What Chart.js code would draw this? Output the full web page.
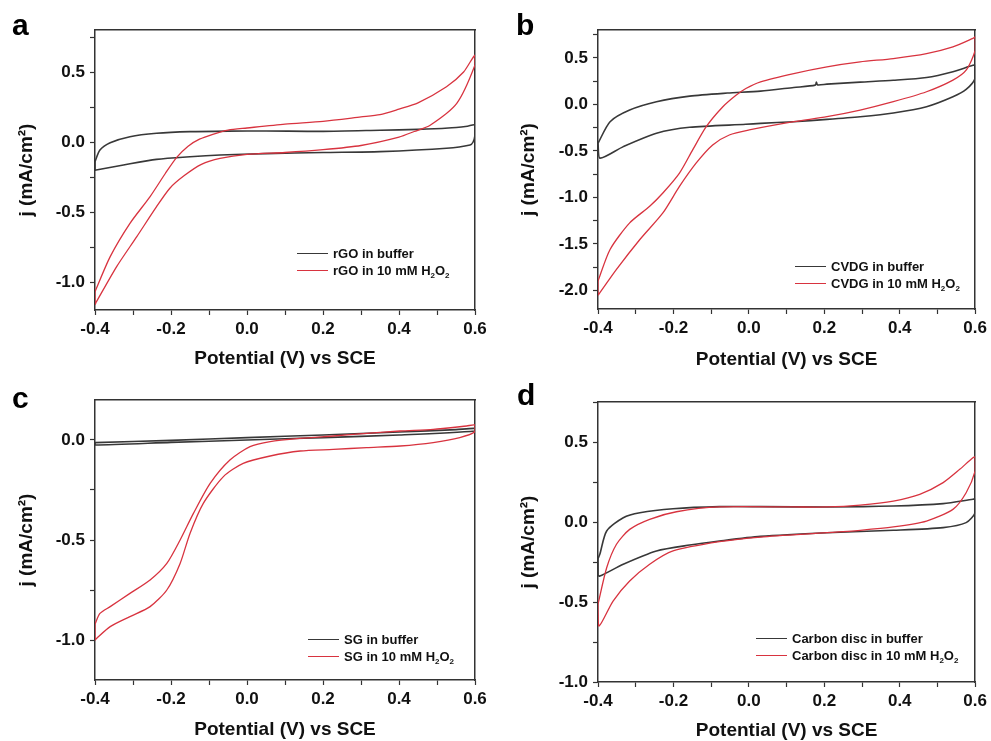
<!DOCTYPE html>
<html>
<head>
<meta charset="utf-8">
<script src="https://cdn.jsdelivr.net/npm/chart.js@4.4.1/dist/chart.umd.min.js"></script>
<style>
  body { margin: 0; background: #fff; }
  #fig { position: relative; width: 991px; height: 741px; overflow: hidden; font-family: "Liberation Sans", Arial, sans-serif; }
  .panel { position: absolute; }
  .letter { position: absolute; font-weight: bold; font-size: 30px; line-height: 30px; color: #000; }
  .legend { position: absolute; font-weight: bold; font-size: 13px; color: #111; }
  .legend .row { height: 17px; line-height: 17px; white-space: nowrap; display: flex; align-items: center; }
  .legend .swatch { display: inline-block; width: 31px; height: 0; border-top: 1.5px solid; margin-right: 5px; }
  .legend sub { font-size: 8px; vertical-align: -3px; line-height: 0; }
</style>
</head>
<body>
<div id="fig"></div>
<script>
// CV loops: [potential V, current density mA/cm2]

// a - rGO
const rgoBuffer = [[-0.4,-0.14],[-0.387,-0.057],[-0.36,-0.005],[-0.308,0.038],[-0.238,0.062],[-0.15,0.074],[-0.05,0.078],[0.05,0.079],[0.2,0.076],[0.35,0.084],[0.45,0.09],[0.53,0.1],[0.58,0.113],[0.6,0.121],
  [0.6,0.05],[0.595,0.0],[0.587,-0.021],[0.525,-0.045],[0.35,-0.069],[0.2,-0.075],[0.05,-0.083],[-0.071,-0.093],[-0.15,-0.105],[-0.238,-0.124],[-0.325,-0.164],[-0.397,-0.2],[-0.4,-0.2]];
const rgoH2O2 = [[-0.4,-1.069],[-0.36,-0.819],[-0.308,-0.581],[-0.255,-0.39],[-0.215,-0.225],[-0.185,-0.11],[-0.155,-0.03],[-0.125,0.02],[-0.09,0.055],[-0.05,0.085],[0.0,0.1],[0.1,0.128],[0.2,0.148],[0.3,0.179],[0.35,0.195],[0.4,0.235],[0.45,0.28],[0.525,0.395],[0.57,0.5],[0.6,0.621],
  [0.6,0.55],[0.552,0.276],[0.482,0.12],[0.44,0.075],[0.4,0.035],[0.3,-0.025],[0.2,-0.055],[0.1,-0.075],[0.0,-0.088],[-0.071,-0.117],[-0.12,-0.16],[-0.165,-0.24],[-0.203,-0.33],[-0.238,-0.462],[-0.29,-0.676],[-0.343,-0.89],[-0.397,-1.145],[-0.4,-1.16]];

// b - CVDG
const cvdgBuffer = [[-0.4,-0.418],[-0.368,-0.186],[-0.316,-0.061],[-0.245,0.028],[-0.157,0.089],[-0.057,0.122],[0.031,0.143],[0.119,0.182],[0.176,0.207],[0.179,0.24],[0.182,0.21],[0.207,0.218],[0.295,0.24],[0.383,0.26],[0.471,0.29],[0.541,0.352],[0.594,0.42],[0.6,0.42],
  [0.6,0.28],[0.576,0.161],[0.541,0.082],[0.471,-0.025],[0.383,-0.092],[0.295,-0.132],[0.207,-0.161],[0.119,-0.186],[0.031,-0.204],[-0.008,-0.214],[-0.157,-0.246],[-0.245,-0.31],[-0.333,-0.454],[-0.395,-0.578]];
const cvdgH2O2 = [[-0.4,-1.9],[-0.368,-1.56],[-0.316,-1.274],[-0.263,-1.096],[-0.228,-0.953],[-0.184,-0.739],[-0.149,-0.489],[-0.113,-0.24],[-0.069,-0.026],[-0.035,0.095],[-0.008,0.171],[0.031,0.243],[0.119,0.332],[0.207,0.404],[0.295,0.457],[0.383,0.493],[0.471,0.546],[0.541,0.618],[0.594,0.71],[0.6,0.725],
  [0.6,0.58],[0.576,0.368],[0.541,0.261],[0.471,0.136],[0.383,0.029],[0.295,-0.061],[0.207,-0.132],[0.119,-0.186],[0.001,-0.275],[-0.052,-0.329],[-0.096,-0.436],[-0.14,-0.632],[-0.184,-0.882],[-0.228,-1.167],[-0.289,-1.453],[-0.351,-1.774],[-0.398,-2.042],[-0.4,-2.05]];

// c - SG
const sgBuffer = [[-0.4,-0.013],[-0.2,-0.002],[0.0,0.012],[0.2,0.025],[0.4,0.04],[0.55,0.052],[0.6,0.058],
  [0.6,0.045],[0.4,0.025],[0.2,0.012],[0.0,0.0],[-0.2,-0.012],[-0.4,-0.025]];
const sgH2O2 = [[-0.4,-0.92],[-0.387,-0.867],[-0.36,-0.833],[-0.308,-0.767],[-0.255,-0.7],[-0.211,-0.617],[-0.176,-0.5],[-0.141,-0.367],[-0.097,-0.217],[-0.045,-0.1],[0.008,-0.033],[0.061,-0.008],[0.14,0.008],[0.227,0.02],[0.315,0.033],[0.403,0.045],[0.49,0.053],[0.578,0.07],[0.6,0.075],
  [0.6,0.042],[0.56,0.012],[0.49,-0.013],[0.403,-0.03],[0.315,-0.038],[0.227,-0.047],[0.14,-0.055],[0.061,-0.08],[-0.01,-0.117],[-0.062,-0.183],[-0.115,-0.317],[-0.15,-0.467],[-0.176,-0.617],[-0.211,-0.75],[-0.255,-0.833],[-0.308,-0.883],[-0.36,-0.933],[-0.396,-0.992],[-0.4,-1.0]];

// d - carbon disc
const carbonBuffer = [[-0.4,-0.23],[-0.395,-0.2],[-0.377,-0.056],[-0.333,0.027],[-0.289,0.058],[-0.201,0.083],[-0.078,0.096],[0.031,0.096],[0.207,0.094],[0.383,0.1],[0.515,0.115],[0.594,0.142],[0.6,0.143],
  [0.6,0.058],[0.576,-0.004],[0.515,-0.035],[0.383,-0.052],[0.207,-0.067],[0.031,-0.09],[-0.078,-0.119],[-0.157,-0.144],[-0.245,-0.181],[-0.333,-0.264],[-0.395,-0.338],[-0.4,-0.33]];
const carbonH2O2 = [[-0.4,-0.514],[-0.377,-0.286],[-0.351,-0.139],[-0.316,-0.046],[-0.263,0.017],[-0.192,0.064],[-0.078,0.094],[0.119,0.094],[0.207,0.094],[0.295,0.106],[0.383,0.131],[0.453,0.173],[0.515,0.246],[0.559,0.329],[0.594,0.402],[0.6,0.405],
  [0.6,0.319],[0.576,0.183],[0.541,0.079],[0.471,0.006],[0.383,-0.031],[0.295,-0.052],[0.207,-0.067],[0.031,-0.094],[-0.078,-0.123],[-0.201,-0.181],[-0.263,-0.264],[-0.316,-0.369],[-0.36,-0.494],[-0.397,-0.65],[-0.4,-0.55]];

// ticks
const xTickVals   = [-0.4,-0.3,-0.2,-0.1,0.0,0.1,0.2,0.3,0.4,0.5,0.6];
const xTickLabels = ['-0.4','','-0.2','','0.0','','0.2','','0.4','','0.6'];
const yTicksA = [-1.0,-0.75,-0.5,-0.25,0.0,0.25,0.5,0.75];
const yLabelsA = ['-1.0','','-0.5','','0.0','','0.5',''];
const yTicksB = [-2.0,-1.75,-1.5,-1.25,-1.0,-0.75,-0.5,-0.25,0.0,0.25,0.5,0.75];
const yLabelsB = ['-2.0','','-1.5','','-1.0','','-0.5','','0.0','','0.5',''];
const yTicksC = [-1.0,-0.75,-0.5,-0.25,0.0];
const yLabelsC = ['-1.0','','-0.5','','0.0'];
const yTicksD = [-1.0,-0.75,-0.5,-0.25,0.0,0.25,0.5,0.75];
const yLabelsD = ['-1.0','','-0.5','','0.0','','0.5',''];

const FONT = '"Liberation Sans", Arial, sans-serif';
const BLACK = '#383838';
const RED = '#d8333f';
const AXIS = '#333';

const fig = document.getElementById('fig');

function loop(points, color, width, order) {
    const pts = points.concat([points[0]]).map(([x, y]) => ({ x, y }));
    return { data: pts, showLine: true, borderColor: color, borderWidth: width, pointRadius: 0, tension: 0.25, order: order };
}

function makePanel(p) {
    const host = document.createElement('div');
    host.className = 'panel';
    host.style.left = p.left + 'px';
    host.style.top = p.top + 'px';
    const cv = document.createElement('canvas');
    cv.width = p.w; cv.height = p.h;
    host.appendChild(cv);
    fig.appendChild(host);

    const [aL, aT, aR, aB] = p.area;
    const tickFont = { family: FONT, size: 17, weight: 'bold' };
    const titleFont = { family: FONT, size: 19, weight: 'bold', lineHeight: 1 };

    new Chart(cv, {
        type: 'scatter',
        data: { datasets: [loop(p.buffer, BLACK, 1.6, 2), loop(p.h2o2, RED, 1.3, 1)] },
        options: {
            responsive: false, animation: false, events: [],
            layout: { padding: 0 },
            plugins: { legend: { display: false }, tooltip: { enabled: false } },
            scales: {
                x: {
                    type: 'linear', position: 'bottom', min: -0.4, max: 0.6,
                    afterBuildTicks: s => { s.ticks = xTickVals.map(v => ({ value: v })); },
                    afterFit: s => { s.height = p.h - aB; },
                    ticks: { autoSkip: false, maxRotation: 0, minRotation: 0, padding: 4, color: '#111', font: tickFont,
                             callback: (v, i) => xTickLabels[i] },
                    grid: { drawOnChartArea: false, tickLength: 5, tickColor: AXIS, tickWidth: 1.2 },
                    border: { color: AXIS, width: 1.5 },
                    title: { display: true, text: 'Potential (V) vs SCE', color: '#111', font: titleFont, padding: { top: 0, bottom: p.xTitlePad } }
                },
                y: {
                    type: 'linear', position: 'left', min: p.yMin, max: p.yMax,
                    afterBuildTicks: s => { s.ticks = p.yTicks.map(v => ({ value: v })); },
                    afterFit: s => { s.width = aL; },
                    ticks: { autoSkip: false, padding: 5, color: '#111', font: tickFont,
                             callback: (v, i) => p.yLabels[i] },
                    grid: { drawOnChartArea: false, tickLength: 5, tickColor: AXIS, tickWidth: 1.2 },
                    border: { color: AXIS, width: 1.5 },
                    title: { display: true, text: 'j (mA/cm²)', color: '#111', font: titleFont, padding: { top: p.yTitlePad, bottom: 0 } }
                },
                xTop: {
                    type: 'linear', position: 'top', min: -0.4, max: 0.6,
                    afterFit: s => { s.height = aT; },
                    ticks: { display: false },
                    grid: { drawOnChartArea: false, drawTicks: false },
                    border: { color: AXIS, width: 1.5 }
                },
                yRight: {
                    type: 'linear', position: 'right', min: p.yMin, max: p.yMax,
                    afterFit: s => { s.width = p.w - aR; },
                    ticks: { display: false },
                    grid: { drawOnChartArea: false, drawTicks: false },
                    border: { color: AXIS, width: 1.5 }
                }
            }
        }
    });

    const letter = document.createElement('div');
    letter.className = 'letter';
    letter.textContent = p.letter;
    letter.style.left = (p.left + p.letterPos[0]) + 'px';
    letter.style.top = (p.top + p.letterPos[1]) + 'px';
    fig.appendChild(letter);

    const leg = document.createElement('div');
    leg.className = 'legend';
    leg.style.left = (p.left + p.legendPos[0]) + 'px';
    leg.style.top = (p.top + p.legendPos[1]) + 'px';
    leg.innerHTML =
        `<div class="row"><span class="swatch" style="border-color:${BLACK}"></span><span>${p.name} in buffer</span></div>` +
        `<div class="row"><span class="swatch" style="border-color:${RED}"></span><span>${p.name} in 10 mM H<sub>2</sub>O<sub>2</sub></span></div>`;
    fig.appendChild(leg);
}

makePanel({ letter: 'a', name: 'rGO', left: 0, top: 0, w: 495, h: 370, area: [95, 30, 475, 310],
    yMin: -1.2, yMax: 0.8, yTicks: yTicksA, yLabels: yLabelsA, buffer: rgoBuffer, h2o2: rgoH2O2,
    xTitlePad: 1.5, yTitlePad: 17, letterPos: [12, 10], legendPos: [297, 245] });
makePanel({ letter: 'b', name: 'CVDG', left: 495, top: 0, w: 496, h: 370, area: [103, 30, 482, 309],
    yMin: -2.2, yMax: 0.8, yTicks: yTicksB, yLabels: yLabelsB, buffer: cvdgBuffer, h2o2: cvdgH2O2,
    xTitlePad: 1, yTitlePad: 24, letterPos: [21, 10], legendPos: [300, 258] });
makePanel({ letter: 'c', name: 'SG', left: 0, top: 370, w: 495, h: 371, area: [95, 30, 475, 310],
    yMin: -1.2, yMax: 0.2, yTicks: yTicksC, yLabels: yLabelsC, buffer: sgBuffer, h2o2: sgH2O2,
    xTitlePad: 1.5, yTitlePad: 17, letterPos: [12, 13], legendPos: [308, 261] });
makePanel({ letter: 'd', name: 'Carbon disc', left: 495, top: 370, w: 496, h: 371, area: [103, 32, 482, 312],
    yMin: -1.0, yMax: 0.75, yTicks: yTicksD, yLabels: yLabelsD, buffer: carbonBuffer, h2o2: carbonH2O2,
    xTitlePad: 1, yTitlePad: 24, letterPos: [22, 10], legendPos: [261, 260] });
</script>
</body>
</html>
